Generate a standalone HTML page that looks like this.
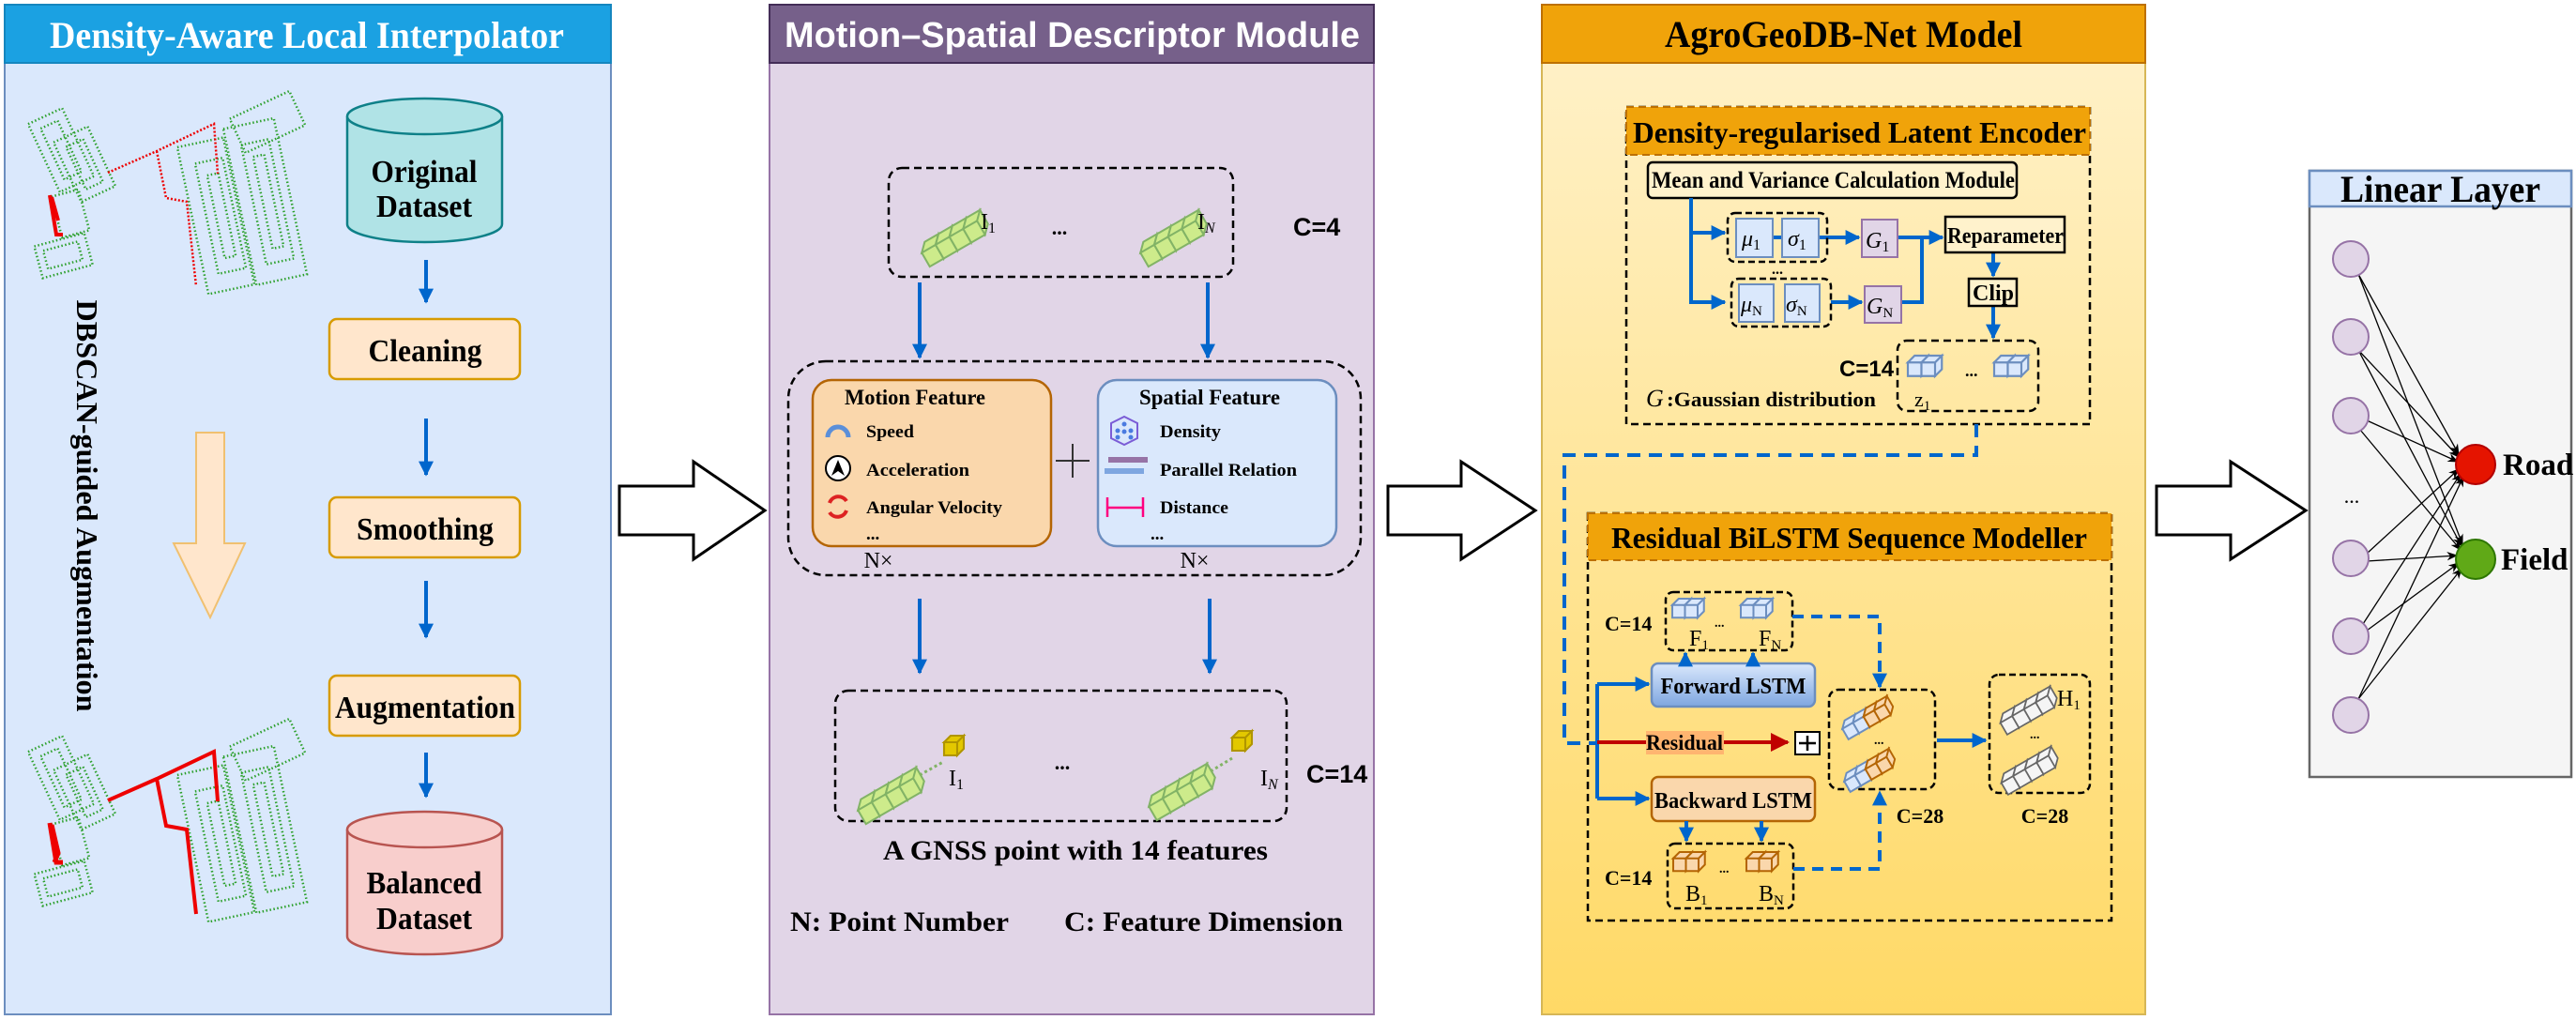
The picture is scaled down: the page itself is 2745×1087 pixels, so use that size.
<!DOCTYPE html>
<html><head><meta charset="utf-8"><style>html,body{margin:0;padding:0;background:#fff}svg{display:block}</style></head><body>
<svg width="2745" height="1087" viewBox="0 0 2745 1087" xmlns="http://www.w3.org/2000/svg" font-family="'Liberation Serif', serif" font-weight="bold">
<defs>
<marker id="ab" viewBox="0 0 10 10" refX="9" refY="5" markerWidth="4" markerHeight="4" orient="auto"><path d="M0,0 L10,5 L0,10 z" fill="#0066cc"/></marker>
<marker id="ar" viewBox="0 0 10 10" refX="9" refY="5" markerWidth="5" markerHeight="5" orient="auto"><path d="M0,0 L10,5 L0,10 z" fill="#c00000"/></marker>
<marker id="ak" viewBox="0 0 10 10" refX="9" refY="5" markerWidth="9" markerHeight="9" orient="auto"><path d="M0,1 L10,5 L0,9 L3,5 z" fill="#000"/></marker>
<linearGradient id="g3" x1="0" y1="0" x2="0" y2="1"><stop offset="0" stop-color="#fff2cc"/><stop offset="1" stop-color="#ffd966"/></linearGradient>
<linearGradient id="gf" x1="0" y1="0" x2="0" y2="1"><stop offset="0" stop-color="#dae8fc"/><stop offset="1" stop-color="#7ea6e0"/></linearGradient>
<g id="cg"><path d="M0,5 h10 v10 h-10z M0,5 l5,-5 h10 l-5,5z M10,5 l5,-5 v10 l-5,5z" fill="#cdeb8b" stroke="#82b366" stroke-width="1.2"/></g>
<g id="cb"><path d="M0,5 h10 v10 h-10z M0,5 l5,-5 h10 l-5,5z M10,5 l5,-5 v10 l-5,5z" fill="#dae8fc" stroke="#6c8ebf" stroke-width="1.5"/></g>
<g id="co"><path d="M0,5 h10 v10 h-10z M0,5 l5,-5 h10 l-5,5z M10,5 l5,-5 v10 l-5,5z" fill="#fad7ac" stroke="#b46504" stroke-width="1.5"/></g>
<g id="cy"><path d="M0,5 h10 v10 h-10z M0,5 l5,-5 h10 l-5,5z M10,5 l5,-5 v10 l-5,5z" fill="#e3c800" stroke="#b09500" stroke-width="1.5"/></g>
<g id="cw"><path d="M0,5 h10 v10 h-10z M0,5 l5,-5 h10 l-5,5z M10,5 l5,-5 v10 l-5,5z" fill="#f5f5f5" stroke="#666" stroke-width="1.2"/></g>
<g id="rowg"><g transform="rotate(-30)"><use href="#cg"/><use href="#cg" x="10"/><use href="#cg" x="20"/><use href="#cg" x="30"/></g></g>
<g id="roww"><g transform="rotate(-30)"><use href="#cw"/><use href="#cw" x="10"/><use href="#cw" x="20"/><use href="#cw" x="30"/></g></g>
<g id="map">
<g fill="none" stroke="#2ca02c" stroke-width="2.5" stroke-dasharray="1.5 2.5">
<rect x="45" y="120" width="40" height="80" transform="rotate(-25 65 160)"/><rect x="70" y="140" width="40" height="70" transform="rotate(-25 90 175)"/>
<rect x="55" y="130" width="20" height="60" transform="rotate(-25 65 160)"/><rect x="80" y="150" width="20" height="50" transform="rotate(-25 90 175)"/>
<rect x="40" y="255" width="55" height="35" transform="rotate(-15 67 272)"/><rect x="48" y="262" width="38" height="20" transform="rotate(-15 67 272)"/>
<rect x="205" y="150" width="50" height="160" transform="rotate(-12 230 230)"/><rect x="255" y="130" width="55" height="170" transform="rotate(-12 282 215)"/>
<rect x="220" y="170" width="30" height="120" transform="rotate(-12 235 230)"/><rect x="270" y="150" width="30" height="130" transform="rotate(-12 285 215)"/>
<rect x="230" y="185" width="12" height="90" transform="rotate(-12 235 230)"/><rect x="280" y="165" width="12" height="100" transform="rotate(-12 285 215)"/>
<rect x="250" y="110" width="70" height="40" transform="rotate(-25 285 130)"/><rect x="60" y="205" width="30" height="45" transform="rotate(-15 75 228)"/>
</g></g>
</defs>

<rect x="5" y="5" width="646" height="1076" fill="#dae8fc" stroke="#6c8ebf" stroke-width="2"/>
<rect x="5" y="5" width="646" height="62" fill="#1ba1e2" stroke="#1586bf" stroke-width="2"/>
<text x="53" y="51" font-size="40" fill="#fff" textLength="548" lengthAdjust="spacingAndGlyphs">Density-Aware Local Interpolator</text>

<use href="#map"/>
<g fill="none" stroke="#e00" stroke-width="2.5" stroke-dasharray="2 2"><path d="M115,184 L167,161 L228,132 L232,185 M167,161 L177,211 L199,215 L209,305"/></g>
<path d="M53,208 L60,250 L67,250 M55,210 L62,235" stroke="#e00" stroke-width="4" fill="none"/>
<g transform="translate(0,669)"><use href="#map"/>
<path d="M115,184 L167,161 L228,132 L232,185 M167,161 L177,211 L199,215 L209,305" stroke="#e00" stroke-width="4" fill="none"/>
<path d="M53,208 L60,250 L67,250 M55,210 L62,240 L58,250" stroke="#e00" stroke-width="5" fill="none"/></g>

<text transform="translate(82,539) rotate(90)" font-size="32" text-anchor="middle" textLength="439" lengthAdjust="spacingAndGlyphs">DBSCAN-guided  Augmentation</text>
<path d="M209,461 H239 V579 H261 L224,658 L185,579 H209 Z" fill="#ffe6cc" stroke="#f0c070" stroke-width="2"/>

<path d="M370,124 V239 A82.5,19 0 0 0 535,239 V124" fill="#b0e3e6" stroke="#0e8088" stroke-width="2.5"/>
<ellipse cx="452.5" cy="124" rx="82.5" ry="19" fill="#b0e3e6" stroke="#0e8088" stroke-width="2.5"/>
<text x="452" y="194" font-size="34" text-anchor="middle" textLength="113" lengthAdjust="spacingAndGlyphs">Original</text>
<text x="452" y="231" font-size="34" text-anchor="middle" textLength="102" lengthAdjust="spacingAndGlyphs">Dataset</text>

<g stroke="#0066cc" stroke-width="4" marker-end="url(#ab)"><line x1="454" y1="277" x2="454" y2="322"/><line x1="454" y1="446" x2="454" y2="506"/><line x1="454" y1="619" x2="454" y2="679"/><line x1="454" y1="802" x2="454" y2="849"/></g>

<g fill="#ffe6cc" stroke="#d79b00" stroke-width="2.5"><rect x="351" y="340" width="203" height="64" rx="8"/><rect x="351" y="530" width="203" height="64" rx="8"/><rect x="351" y="720" width="203" height="64" rx="8"/></g>
<text x="453" y="385" font-size="34" text-anchor="middle" textLength="121" lengthAdjust="spacingAndGlyphs">Cleaning</text>
<text x="453" y="575" font-size="34" text-anchor="middle" textLength="146" lengthAdjust="spacingAndGlyphs">Smoothing</text>
<text x="453" y="765" font-size="34" text-anchor="middle" textLength="192" lengthAdjust="spacingAndGlyphs">Augmentation</text>

<path d="M370,884 V998 A82.5,19 0 0 0 535,998 V884" fill="#f8cecc" stroke="#b85450" stroke-width="2.5"/>
<ellipse cx="452.5" cy="884" rx="82.5" ry="19" fill="#f8cecc" stroke="#b85450" stroke-width="2.5"/>
<text x="452" y="952" font-size="34" text-anchor="middle" textLength="123" lengthAdjust="spacingAndGlyphs">Balanced</text>
<text x="452" y="990" font-size="34" text-anchor="middle" textLength="102" lengthAdjust="spacingAndGlyphs">Dataset</text>

<g fill="#fff" stroke="#000" stroke-width="3">
<path d="M660,518 H739 V492 L815,544 L739,596 V570 H660 Z"/>
<path d="M1479,518 H1557 V492 L1636,544 L1557,596 V570 H1479 Z"/>
<path d="M2298,518 H2377 V492 L2457,544 L2377,596 V570 H2298 Z"/>
</g>

<rect x="820" y="5" width="644" height="1076" fill="#e1d5e7" stroke="#9673a6" stroke-width="2"/>
<rect x="820" y="5" width="644" height="62" fill="#76608a" stroke="#432d57" stroke-width="2"/>
<text x="836" y="50" font-size="38" fill="#fff" font-family="'Liberation Sans Narrow','Liberation Sans',sans-serif" textLength="613" lengthAdjust="spacingAndGlyphs">Motion–Spatial Descriptor Module</text>

<rect x="947" y="179" width="367" height="116" rx="14" fill="none" stroke="#000" stroke-width="2.5" stroke-dasharray="8 5"/>
<g transform="translate(978,262) scale(1.7) translate(-978,-262)"><use href="#rowg" x="978" y="262"/></g>
<g transform="translate(1211,262) scale(1.7) translate(-1211,-262)"><use href="#rowg" x="1211" y="262"/></g>
<text x="1045" y="244" font-size="24" font-weight="normal">I<tspan font-size="16" dy="4">1</tspan></text>
<text x="1129" y="250" font-size="22" text-anchor="middle">...</text>
<text x="1276" y="244" font-size="24" font-weight="normal">I<tspan font-size="16" dy="4" font-style="italic">N</tspan></text>
<text x="1378" y="251" font-size="27" font-family="'Liberation Sans',sans-serif">C=4</text>

<g stroke="#0066cc" stroke-width="4" marker-end="url(#ab)"><line x1="980" y1="301" x2="980" y2="381"/><line x1="1287" y1="301" x2="1287" y2="381"/><line x1="980" y1="638" x2="980" y2="717"/><line x1="1289" y1="638" x2="1289" y2="717"/></g>

<rect x="840" y="385" width="610" height="228" rx="40" fill="none" stroke="#000" stroke-width="2.5" stroke-dasharray="8 5"/>
<rect x="866" y="405" width="254" height="177" rx="20" fill="#fad7ac" stroke="#b46504" stroke-width="2.5"/>
<rect x="1170" y="405" width="254" height="177" rx="20" fill="#dae8fc" stroke="#6c8ebf" stroke-width="2.5"/>
<path d="M1143,473 V509 M1125,491 H1161" stroke="#333" stroke-width="2"/>
<text x="975" y="431" font-size="23" text-anchor="middle" textLength="150" lengthAdjust="spacingAndGlyphs">Motion Feature</text>
<g font-size="19"><text x="923" y="466" textLength="51" lengthAdjust="spacingAndGlyphs">Speed</text>
<text x="923" y="507" textLength="110" lengthAdjust="spacingAndGlyphs">Acceleration</text>
<text x="923" y="547" textLength="145" lengthAdjust="spacingAndGlyphs">Angular Velocity</text>
<text x="923" y="575">...</text></g>
<path d="M882,466 A11,11 0 0 1 904,466" fill="none" stroke="#5b8fd9" stroke-width="5"/>
<circle cx="893" cy="499" r="13" fill="#fff" stroke="#000" stroke-width="2"/><path d="M886,507 L893,490 L900,507 L893,502 Z" fill="#000"/>
<path d="M884,536 A10,10 0 0 1 902,534 M902,544 A10,10 0 0 1 884,546" fill="none" stroke="#d22" stroke-width="4"/>
<text x="1289" y="431" font-size="23" text-anchor="middle" textLength="150" lengthAdjust="spacingAndGlyphs">Spatial Feature</text>
<g font-size="19"><text x="1236" y="466" textLength="65" lengthAdjust="spacingAndGlyphs">Density</text>
<text x="1236" y="507" textLength="146" lengthAdjust="spacingAndGlyphs">Parallel Relation</text>
<text x="1236" y="547" textLength="73" lengthAdjust="spacingAndGlyphs">Distance</text>
<text x="1226" y="575">...</text></g>
<polygon points="1198,444 1212,451 1212,467 1198,474 1184,467 1184,451" fill="#dae8fc" stroke="#7b5cd6" stroke-width="2"/>
<g fill="#4a7be0"><circle cx="1198" cy="452" r="2.5"/><circle cx="1191" cy="459" r="2.5"/><circle cx="1205" cy="459" r="2.5"/><circle cx="1191" cy="466" r="2.5"/><circle cx="1205" cy="466" r="2.5"/><circle cx="1198" cy="460" r="2.5"/></g>
<rect x="1181" y="487" width="42" height="6" fill="#9673a6"/><rect x="1177" y="499" width="42" height="6" fill="#7ea6e0"/>
<path d="M1180,530 V551 M1180,541 H1218 M1218,530 V551" stroke="#ff0080" stroke-width="2.5" fill="none"/>
<text x="936" y="605" font-size="24" font-weight="normal" text-anchor="middle">N×</text>
<text x="1273" y="605" font-size="24" font-weight="normal" text-anchor="middle">N×</text>

<rect x="890" y="736" width="481" height="139" rx="14" fill="none" stroke="#000" stroke-width="2.5" stroke-dasharray="8 5"/>
<g transform="translate(910,856) scale(1.7) translate(-910,-856)"><use href="#rowg" x="910" y="856"/></g>
<g transform="translate(1220,852) scale(1.7) translate(-1220,-852)"><use href="#rowg" x="1220" y="852"/></g>
<line x1="980" y1="826" x2="1005" y2="812" stroke="#82b366" stroke-width="3" stroke-dasharray="3 3"/>
<line x1="1290" y1="822" x2="1313" y2="808" stroke="#82b366" stroke-width="3" stroke-dasharray="3 3"/>
<g transform="translate(1006,784) scale(1.4)"><use href="#cy"/></g>
<g transform="translate(1313,779) scale(1.4)"><use href="#cy"/></g>
<text x="1011" y="837" font-size="24" font-weight="normal">I<tspan font-size="16" dy="4">1</tspan></text>
<text x="1132" y="820" font-size="22" text-anchor="middle">...</text>
<text x="1343" y="837" font-size="24" font-weight="normal">I<tspan font-size="16" dy="4" font-style="italic">N</tspan></text>
<text x="1392" y="834" font-size="27" font-family="'Liberation Sans',sans-serif">C=14</text>
<text x="1146" y="916" font-size="30" text-anchor="middle" textLength="410" lengthAdjust="spacingAndGlyphs">A GNSS point with 14 features</text>
<text x="842" y="992" font-size="30" textLength="233" lengthAdjust="spacingAndGlyphs">N: Point Number</text>
<text x="1134" y="992" font-size="30" textLength="297" lengthAdjust="spacingAndGlyphs">C: Feature Dimension</text>

<rect x="1643" y="5" width="643" height="1076" fill="url(#g3)" stroke="#d6b656" stroke-width="2"/>
<rect x="1643" y="5" width="643" height="62" fill="#f0a30a" stroke="#bd7000" stroke-width="2"/>
<text x="1774" y="50" font-size="40" textLength="381" lengthAdjust="spacingAndGlyphs">AgroGeoDB-Net Model</text>

<rect x="1733" y="114" width="494" height="338" fill="none" stroke="#000" stroke-width="2.5" stroke-dasharray="8 5"/>
<rect x="1733" y="114" width="494" height="51" fill="#f0a30a" stroke="#bd7000" stroke-width="2" stroke-dasharray="8 5"/>
<text x="1740" y="152" font-size="32" textLength="483" lengthAdjust="spacingAndGlyphs">Density-regularised Latent Encoder</text>
<rect x="1756" y="173" width="393" height="38" rx="5" fill="#fff2cc" stroke="#000" stroke-width="2.5"/>
<text x="1760" y="200" font-size="25" textLength="387" lengthAdjust="spacingAndGlyphs">Mean and Variance Calculation Module</text>

<g stroke="#0066cc" stroke-width="4" fill="none">
<path d="M1802,211 V322 H1838" marker-end="url(#ab)"/><path d="M1802,248 H1838" marker-end="url(#ab)"/>
<path d="M1889,253 H1899"/><path d="M1938,253 H1981" marker-end="url(#ab)"/><path d="M1951,322 H1984" marker-end="url(#ab)"/>
<path d="M2022,253 H2048 M2026,322 H2048 V253 H2070" marker-end="url(#ab)"/>
<path d="M2124,269 V294" marker-end="url(#ab)"/><path d="M2124,326 V360" marker-end="url(#ab)"/>
</g>
<rect x="1841" y="227" width="106" height="52" rx="8" fill="none" stroke="#000" stroke-width="2.5" stroke-dasharray="7 4"/>
<rect x="1845" y="297" width="106" height="51" rx="8" fill="none" stroke="#000" stroke-width="2.5" stroke-dasharray="7 4"/>
<g fill="#dae8fc" stroke="#6c8ebf" stroke-width="2"><rect x="1850" y="233" width="39" height="41"/><rect x="1899" y="233" width="39" height="41"/><rect x="1853" y="303" width="37" height="40"/><rect x="1902" y="303" width="37" height="40"/></g>
<g fill="#e1d5e7" stroke="#9673a6" stroke-width="2"><rect x="1984" y="234" width="38" height="40"/><rect x="1987" y="305" width="39" height="39"/></g>
<g font-family="'Liberation Serif',serif" font-weight="normal" font-style="italic" font-size="24">
<text x="1856" y="262">μ<tspan font-style="normal" font-size="16" dy="4">1</tspan></text>
<text x="1905" y="262">σ<tspan font-style="normal" font-size="16" dy="4">1</tspan></text>
<text x="1855" y="332">μ<tspan font-style="normal" font-size="15" dy="4">N</tspan></text>
<text x="1903" y="332">σ<tspan font-style="normal" font-size="15" dy="4">N</tspan></text>
<text x="1988" y="264">G<tspan font-style="normal" font-size="16" dy="4">1</tspan></text>
<text x="1989" y="334">G<tspan font-style="normal" font-size="15" dy="4">N</tspan></text>
<text x="1754" y="433" font-size="26">G</text></g>
<text x="1888" y="292" font-size="16">...</text>
<rect x="2073" y="231" width="127" height="38" fill="#fff2cc" stroke="#000" stroke-width="2.5"/>
<text x="2075" y="259" font-size="24" textLength="124" lengthAdjust="spacingAndGlyphs">Reparameter</text>
<rect x="2098" y="297" width="51" height="29" fill="#fff2cc" stroke="#000" stroke-width="2.5"/>
<text x="2124" y="320" font-size="24" text-anchor="middle">Clip</text>
<rect x="2022" y="363" width="150" height="75" rx="10" fill="none" stroke="#000" stroke-width="2.5" stroke-dasharray="8 5"/>
<g transform="translate(2033,379) scale(1.45)"><use href="#cb"/><use href="#cb" x="10"/></g>
<g transform="translate(2125,379) scale(1.45)"><use href="#cb"/><use href="#cb" x="10"/></g>
<text x="2094" y="401" font-size="18">...</text>
<text x="2040" y="433" font-size="22" font-weight="normal">z<tspan font-size="15" dy="4">1</tspan></text>
<text x="1960" y="401" font-size="24" font-family="'Liberation Sans',sans-serif">C=14</text>
<text x="1776" y="433" font-size="22" textLength="223" lengthAdjust="spacingAndGlyphs">:Gaussian distribution</text>

<path d="M2106,452 V485 H1667 V792 H1700" fill="none" stroke="#0066cc" stroke-width="4" stroke-dasharray="14 9"/>

<rect x="1692" y="547" width="558" height="434" fill="none" stroke="#000" stroke-width="2.5" stroke-dasharray="8 5"/>
<rect x="1692" y="547" width="558" height="50" fill="#f0a30a" stroke="#bd7000" stroke-width="2" stroke-dasharray="8 5"/>
<text x="1717" y="584" font-size="32" textLength="507" lengthAdjust="spacingAndGlyphs">Residual BiLSTM Sequence Modeller</text>

<rect x="1775" y="631" width="135" height="62" rx="8" fill="none" stroke="#000" stroke-width="2.5" stroke-dasharray="7 4"/>
<g transform="translate(1782,638) scale(1.35)"><use href="#cb"/><use href="#cb" x="10"/></g>
<g transform="translate(1855,638) scale(1.35)"><use href="#cb"/><use href="#cb" x="10"/></g>
<text x="1827" y="668" font-size="14">...</text>
<text x="1800" y="688" font-size="24" font-weight="normal">F<tspan font-size="15" dy="4">1</tspan></text>
<text x="1874" y="688" font-size="24" font-weight="normal">F<tspan font-size="15" dy="4">N</tspan></text>
<text x="1710" y="672" font-size="22">C=14</text>

<rect x="1777" y="899" width="134" height="69" rx="8" fill="none" stroke="#000" stroke-width="2.5" stroke-dasharray="7 4"/>
<g transform="translate(1783,908) scale(1.35)"><use href="#co"/><use href="#co" x="10"/></g>
<g transform="translate(1861,908) scale(1.35)"><use href="#co"/><use href="#co" x="10"/></g>
<text x="1832" y="930" font-size="14">...</text>
<text x="1796" y="960" font-size="24" font-weight="normal">B<tspan font-size="15" dy="4">1</tspan></text>
<text x="1874" y="960" font-size="24" font-weight="normal">B<tspan font-size="15" dy="4">N</tspan></text>
<text x="1710" y="943" font-size="22">C=14</text>

<rect x="1760" y="707" width="174" height="46" rx="7" fill="url(#gf)" stroke="#6c8ebf" stroke-width="2.5"/>
<text x="1847" y="739" font-size="24" text-anchor="middle" textLength="155" lengthAdjust="spacingAndGlyphs">Forward LSTM</text>
<rect x="1760" y="828" width="174" height="47" rx="7" fill="#fad7ac" stroke="#b46504" stroke-width="2.5"/>
<text x="1847" y="861" font-size="24" text-anchor="middle" textLength="168" lengthAdjust="spacingAndGlyphs">Backward LSTM</text>

<g stroke="#0066cc" stroke-width="4" fill="none">
<path d="M1702,729 V851"/><path d="M1702,729 H1757" marker-end="url(#ab)"/><path d="M1702,851 H1757" marker-end="url(#ab)"/>
<path d="M1796,707 V696" marker-end="url(#ab)"/><path d="M1868,707 V696" marker-end="url(#ab)"/>
<path d="M1797,875 V896" marker-end="url(#ab)"/><path d="M1877,875 V896" marker-end="url(#ab)"/>
<path d="M2064,789 H2116" marker-end="url(#ab)"/>
</g>
<g stroke="#0066cc" stroke-width="4" fill="none" stroke-dasharray="12 8">
<path d="M1910,657 H2003 V732" marker-end="url(#ab)"/><path d="M1911,926 H2003 V844" marker-end="url(#ab)"/>
</g>
<line x1="1702" y1="791" x2="1905" y2="791" stroke="#c00000" stroke-width="4" marker-end="url(#ar)"/>
<rect x="1754" y="779" width="83" height="25" fill="#ffb570"/>
<text x="1795" y="799" font-size="23" text-anchor="middle" textLength="82" lengthAdjust="spacingAndGlyphs">Residual</text>
<rect x="1913" y="780" width="26" height="24" fill="#fff" stroke="#000" stroke-width="2"/>
<path d="M1926,784 V800 M1917,792 H1935" stroke="#000" stroke-width="2.5"/>

<rect x="1949" y="735" width="113" height="106" rx="10" fill="none" stroke="#000" stroke-width="2.5" stroke-dasharray="7 4"/>
<g transform="translate(1960,771) scale(1.3)"><g transform="rotate(-30)"><use href="#cb"/><use href="#cb" x="10"/><use href="#co" x="20"/><use href="#co" x="30"/></g></g>
<g transform="translate(1962,827) scale(1.3)"><g transform="rotate(-30)"><use href="#cb"/><use href="#cb" x="10"/><use href="#co" x="20"/><use href="#co" x="30"/></g></g>
<text x="1997" y="793" font-size="14">...</text>
<text x="2046" y="877" font-size="22" text-anchor="middle">C=28</text>

<rect x="2120" y="719" width="107" height="126" rx="10" fill="none" stroke="#000" stroke-width="2.5" stroke-dasharray="7 4"/>
<g transform="translate(2128,764) scale(1.45) translate(-2128,-764)"><use href="#roww" x="2128" y="764"/></g>
<g transform="translate(2129,828) scale(1.45) translate(-2129,-828)"><use href="#roww" x="2129" y="828"/></g>
<text x="2192" y="752" font-size="24" font-weight="normal">H<tspan font-size="15" dy="4">1</tspan></text>
<text x="2163" y="787" font-size="14">...</text>
<text x="2179" y="877" font-size="22" text-anchor="middle">C=28</text>

<rect x="2461" y="182" width="279" height="646" fill="#f5f5f5" stroke="#666" stroke-width="2.5"/>
<rect x="2461" y="182" width="279" height="38" fill="#dae8fc" stroke="#6c8ebf" stroke-width="2.5"/>
<text x="2494" y="215" font-size="40" textLength="213" lengthAdjust="spacingAndGlyphs">Linear Layer</text>
<g stroke="#000" stroke-width="1.3" marker-end="url(#ak)" fill="none">
<line x1="2513" y1="292" x2="2620" y2="484"/><line x1="2513" y1="292" x2="2624" y2="580"/>
<line x1="2513" y1="373" x2="2620" y2="487"/><line x1="2513" y1="373" x2="2623" y2="582"/>
<line x1="2522" y1="448" x2="2619" y2="492"/><line x1="2515" y1="458" x2="2622" y2="586"/>
<line x1="2522" y1="590" x2="2620" y2="500"/><line x1="2522" y1="598" x2="2618" y2="592"/>
<line x1="2518" y1="665" x2="2622" y2="505"/><line x1="2522" y1="672" x2="2620" y2="600"/>
<line x1="2513" y1="745" x2="2625" y2="508"/><line x1="2513" y1="745" x2="2623" y2="606"/>
</g>
<g fill="#e1d5e7" stroke="#9673a6" stroke-width="2"><ellipse cx="2505" cy="276" rx="19" ry="19"/><ellipse cx="2505" cy="359" rx="19" ry="19"/><ellipse cx="2505" cy="443" rx="19" ry="19"/><ellipse cx="2505" cy="595" rx="19" ry="19"/><ellipse cx="2505" cy="678" rx="19" ry="19"/><ellipse cx="2505" cy="762" rx="19" ry="19"/></g>
<text x="2506" y="536" font-size="22" font-weight="normal" text-anchor="middle">...</text>
<ellipse cx="2638" cy="495" rx="21" ry="21" fill="#e51400" stroke="#b20000" stroke-width="2"/>
<ellipse cx="2638" cy="596" rx="21" ry="21" fill="#60a917" stroke="#2d7600" stroke-width="2"/>
<text x="2667" y="506" font-size="33">Road</text>
<text x="2665" y="607" font-size="33">Field</text>
</svg>
</body></html>
